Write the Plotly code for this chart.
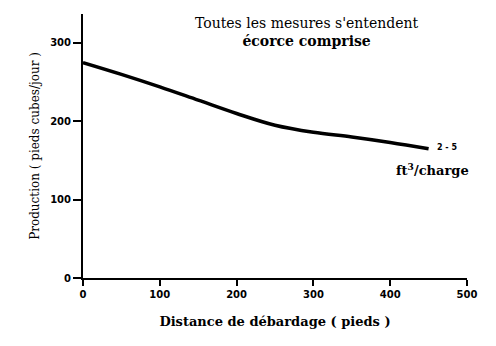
import plotly.graph_objects as go

distance = [0, 50, 100, 150, 200, 250, 300, 350, 400, 450]
production = [275, 260, 244, 227, 210, 195, 186, 180, 173, 165]
x_ticks = [0, 100, 200, 300, 400, 500]
y_ticks = [0, 100, 200, 300]

serif = "DejaVu Serif, Liberation Serif, serif"

fig = go.Figure()
fig.add_trace(go.Scatter(x=distance, y=production, mode="lines",
                         line=dict(color="black", width=3.5, shape="spline"),
                         showlegend=False, hoverinfo="skip"))

fig.update_layout(
    width=496, height=346,
    margin=dict(l=83, r=29, t=14, b=68),
    paper_bgcolor="white", plot_bgcolor="white",
    font=dict(family=serif, color="black", size=12),
    xaxis=dict(range=[0, 500], tickvals=x_ticks, showgrid=False, zeroline=False,
               showline=True, linecolor="black", linewidth=2,
               ticks="outside", ticklen=6, tickwidth=2, tickcolor="black",
               tickfont=dict(family="DejaVu Sans, sans-serif", size=10, weight="bold"),
               title=dict(text="Distance de débardage ( pieds )",
                          font=dict(family=serif, size=13, weight="bold"), standoff=18)),
    yaxis=dict(range=[0, 337], tickvals=y_ticks, showgrid=False, zeroline=False,
               showline=True, linecolor="black", linewidth=2,
               ticks="outside", ticklen=8, tickwidth=2, tickcolor="black",
               tickfont=dict(family="DejaVu Sans, sans-serif", size=10, weight="bold"),
               title=dict(text="Production ( pieds cubes/jour )",
                          font=dict(family=serif, size=12), standoff=8)),
)

fig.add_annotation(x=292, y=314, xref="x", yref="y",
                   text="Toutes les mesures s'entendent<br><b>écorce comprise</b>",
                   showarrow=False, align="center",
                   font=dict(family=serif, size=14))
fig.add_annotation(x=458, y=166, xref="x", yref="y", text="<b>2 - 5</b>",
                   showarrow=False, xanchor="left",
                   font=dict(family="DejaVu Sans, sans-serif", size=8))
fig.add_annotation(x=455, y=139, xref="x", yref="y", text="<b>ft<sup>3</sup>/charge</b>",
                   showarrow=False, xanchor="center",
                   font=dict(family=serif, size=13))

fig.write_html("out.html")
